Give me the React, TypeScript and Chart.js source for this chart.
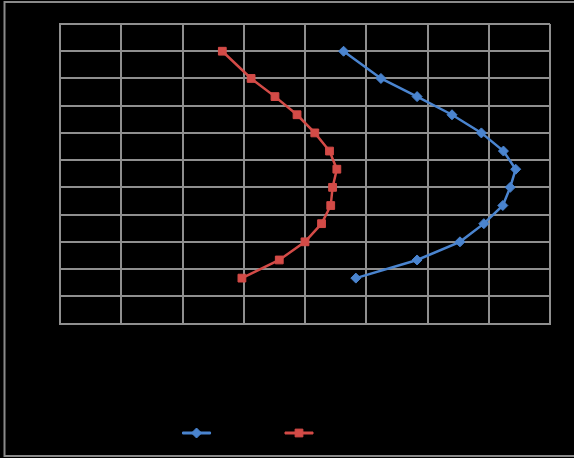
import React, { useEffect, useRef } from "react";
import { Chart, registerables } from "chart.js";

Chart.register(...registerables);

// ---- data ----
const depth = [30, 27, 25, 23, 21, 19, 17, 15, 13, 11, 9, 7, 5];
const series1 = [4.63, 5.24, 5.83, 6.4, 6.88, 7.24, 7.44, 7.35, 7.23, 6.92, 6.53, 5.83, 4.83];
const series2 = [2.65, 3.12, 3.51, 3.87, 4.16, 4.4, 4.52, 4.45, 4.42, 4.27, 4.0, 3.58, 2.97];
const seriesNames = ["Series1", "Series2"];
const xMin = 0;
const xMax = 8;
const xStep = 1;
const yMin = 0;
const yMax = 33;
const yStep = 3;

// ---- styles ----
const BLUE = "#4A84CF";
const RED = "#D34B47";
const GRID = "#8F8F8F";
const LEGEND_FONT = 14;
const LEGEND_BOX = 28;

function drawMarker(ctx: CanvasRenderingContext2D, style: string, x: number, y: number, r: number, color: string) {
  ctx.save();
  ctx.fillStyle = color;
  ctx.strokeStyle = color;
  ctx.lineWidth = 1;
  ctx.beginPath();
  if (style === "rectRot") {
    ctx.moveTo(x - r, y);
    ctx.lineTo(x, y - r);
    ctx.lineTo(x + r, y);
    ctx.lineTo(x, y + r);
    ctx.closePath();
  } else {
    const s = r * Math.SQRT1_2;
    ctx.rect(x - s, y - s, 2 * s, 2 * s);
  }
  ctx.fill();
  ctx.stroke();
  ctx.restore();
}

const backgroundPlugin = {
  id: "bgFrame",
  beforeDraw(chart: any) {
    const ctx = chart.ctx as CanvasRenderingContext2D;
    ctx.save();
    ctx.fillStyle = "#000000";
    ctx.fillRect(0, 0, chart.width, chart.height);
    ctx.strokeStyle = "#8A8A8A";
    ctx.lineWidth = 2;
    ctx.strokeRect(4.5, 2, chart.width + 20, 454);
    ctx.restore();
  },
};

const legendMarkerPlugin = {
  id: "legendMarkers",
  afterDraw(chart: any) {
    const legend = chart.legend;
    if (!legend || !legend.legendHitBoxes) return;
    const ctx = chart.ctx as CanvasRenderingContext2D;
    legend.legendItems.forEach((item: any, i: number) => {
      const hb = legend.legendHitBoxes[i];
      const ds = chart.data.datasets[item.datasetIndex];
      if (!hb || !ds) return;
      const cx = hb.left + LEGEND_BOX / 2;
      const cy = hb.top + LEGEND_FONT / 2;
      drawMarker(ctx, ds.pointStyle, cx, cy, ds.pointRadius, ds.borderColor);
    });
  },
};

export default function App() {
  const canvasRef = useRef<HTMLCanvasElement | null>(null);

  useEffect(() => {
    const canvas = canvasRef.current;
    if (!canvas) return;
    const chart = new Chart(canvas, {
      type: "scatter",
      data: {
        datasets: [
          {
            label: seriesNames[0],
            data: depth.map((d, i) => ({ x: series1[i], y: d })),
            showLine: true,
            borderColor: BLUE,
            backgroundColor: BLUE,
            borderWidth: 2.5,
            pointStyle: "rectRot",
            pointRadius: 5,
            pointBorderWidth: 1,
            tension: 0,
          },
          {
            label: seriesNames[1],
            data: depth.map((d, i) => ({ x: series2[i], y: d })),
            showLine: true,
            borderColor: RED,
            backgroundColor: RED,
            borderWidth: 2.5,
            pointStyle: "rect",
            pointRadius: 5.5,
            pointBorderWidth: 1,
            tension: 0,
          },
        ] as any,
      },
      options: {
        animation: false,
        responsive: false,
        layout: { padding: { left: 0, top: 24, right: 24, bottom: 8 } },
        scales: {
          x: {
            type: "linear",
            min: xMin,
            max: xMax,
            ticks: { stepSize: xStep, color: "#000000", font: { family: "Arial", size: 12 } },
            grid: { color: GRID, lineWidth: 2, drawTicks: false },
            border: { color: GRID, width: 2 },
            afterFit: (s: any) => {
              s.height = 82.5;
            },
          },
          y: {
            type: "linear",
            min: yMin,
            max: yMax,
            ticks: { stepSize: yStep, color: "#000000", font: { family: "Arial", size: 12 } },
            grid: { color: GRID, lineWidth: 2, drawTicks: false },
            border: { color: GRID, width: 2 },
            afterFit: (s: any) => {
              s.width = 60;
            },
          },
        },
        plugins: {
          legend: {
            position: "bottom",
            labels: {
              boxWidth: LEGEND_BOX,
              boxHeight: 2,
              padding: 20,
              color: "#000000",
              font: { family: "Arial", size: LEGEND_FONT },
              generateLabels: (c: any) =>
                (Chart.defaults.plugins.legend.labels as any).generateLabels(c).map((l: any) => ({
                  ...l,
                  lineWidth: 1,
                })),
            },
          },
          tooltip: { enabled: false },
        },
      } as any,
      plugins: [backgroundPlugin, legendMarkerPlugin],
    });
    return () => chart.destroy();
  }, []);

  return (
    <div
      style={{
        position: "fixed",
        left: 0,
        top: 0,
        width: 574,
        height: 458,
        overflow: "hidden",
        background: "#000",
      }}
    >
      <canvas ref={canvasRef} width={574} height={458} style={{ display: "block" }} />
    </div>
  );
}
